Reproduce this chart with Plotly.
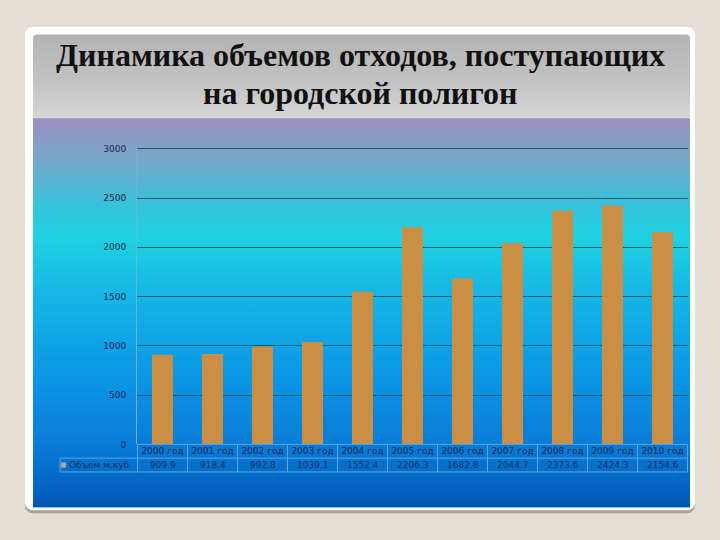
import base64
import plotly.graph_objects as go

# data
years = ["2000 год", "2001 год", "2002 год", "2003 год", "2004 год", "2005 год",
         "2006 год", "2007 год", "2008 год", "2009 год", "2010 год"]
volume = [909.9, 918.4, 992.8, 1039.1, 1552.4, 2206.3, 1682.8, 2044.7, 2373.6, 2424.3, 2154.6]
series_name = "Объем м.куб"
title_lines = ["Динамика объемов отходов, поступающих", "на городской полигон"]

W, H = 720, 540


def px(x):
    return x / W


def py(y):
    return 1 - y / H


# slide background (beige slide, white rounded panel, grey title box, blue gradient chart area)
svg = f"""<svg xmlns='http://www.w3.org/2000/svg' width='{W}' height='{H}' viewBox='0 0 {W} {H}'>
<defs>
<linearGradient id='t' x1='0' y1='0' x2='0' y2='1'>
<stop offset='0' stop-color='#b4b4b4'/><stop offset='0.55' stop-color='#c2c2c2'/><stop offset='1' stop-color='#d6d6d6'/>
</linearGradient>
<linearGradient id='c' x1='0' y1='0' x2='0' y2='1'>
<stop offset='0' stop-color='#9a90c0'/><stop offset='0.09' stop-color='#7ea4c8'/>
<stop offset='0.24' stop-color='#2ec6dc'/><stop offset='0.30' stop-color='#1fd2e2'/>
<stop offset='0.48' stop-color='#13b2e6'/><stop offset='0.68' stop-color='#0b94e4'/>
<stop offset='0.86' stop-color='#0878d4'/><stop offset='1' stop-color='#0058b6'/>
</linearGradient>
</defs>
<rect x='0' y='0' width='{W}' height='{H}' fill='#e4dfd5'/>
<rect x='25' y='26' width='670' height='492' rx='8' fill='#a8a39a'/>
<rect x='25' y='24' width='670' height='491' rx='8' fill='#ffffff'/>
<rect x='33' y='32' width='657' height='86' rx='4' fill='url(#t)'/>
<rect x='33' y='117' width='657' height='395' fill='url(#c)'/>
</svg>"""
bg_uri = "data:image/svg+xml;base64," + base64.b64encode(svg.encode()).decode()

fig = go.Figure()
fig.add_trace(go.Bar(
    x=years, y=volume, name=series_name,
    marker=dict(color="#c98f47", line=dict(width=0)),
    width=0.42,
))

table_font = dict(family="DejaVu Sans, Verdana", size=9, color="#13305e")

# value row of the data table
for yr, v in zip(years, volume):
    fig.add_annotation(x=yr, y=py(469), xref="x", yref="paper", text=f"{v:.1f}",
                       yanchor="middle", showarrow=False, font=table_font)
fig.add_annotation(x=px(67), y=py(469), xref="paper", yref="paper", text=series_name,
                   xanchor="left", yanchor="middle", showarrow=False, font=table_font)

line_col = "#5aa6e6"
shapes = [
    dict(type="line", xref="x", yref="paper", x0=-0.5, x1=len(years) - 0.5,
         y0=py(448), y1=py(448), line=dict(color=line_col, width=1)),
    dict(type="line", xref="x", yref="paper", x0=-0.5, x1=len(years) - 0.5,
         y0=py(462), y1=py(462), line=dict(color=line_col, width=1)),
    dict(type="line", xref="x", yref="paper", x0=-0.5, x1=len(years) - 0.5,
         y0=py(476), y1=py(476), line=dict(color=line_col, width=1)),
    dict(type="line", xref="paper", yref="paper", x0=px(60), x1=px(137),
         y0=py(462), y1=py(462), line=dict(color=line_col, width=1)),
    dict(type="line", xref="paper", yref="paper", x0=px(60), x1=px(137),
         y0=py(476), y1=py(476), line=dict(color=line_col, width=1)),
    dict(type="line", xref="paper", yref="paper", x0=px(60), x1=px(60),
         y0=py(462), y1=py(476), line=dict(color=line_col, width=1)),
    # legend key
    dict(type="rect", xref="paper", yref="paper", x0=px(61), x1=px(66),
         y0=py(471.5), y1=py(466.5), fillcolor="#a9a9a9", line=dict(color="#8a8a8a", width=0.5)),
]
for i in range(len(years) + 1):
    shapes.append(dict(type="line", xref="x", yref="paper", x0=i - 0.5, x1=i - 0.5,
                       y0=py(448), y1=py(476), line=dict(color=line_col, width=1)))

# title
for line, yy in zip(title_lines, [53, 91]):
    fig.add_annotation(x=0.5, y=py(yy), xref="paper", yref="paper", text=f"<b>{line}</b>",
                       xanchor="center", yanchor="middle", showarrow=False,
                       font=dict(family="Liberation Serif, Times New Roman", size=32, color="#111111"))

fig.update_layout(
    width=W, height=H,
    margin=dict(l=0, r=0, t=0, b=0),
    paper_bgcolor="#e4dfd5",
    plot_bgcolor="rgba(0,0,0,0)",
    showlegend=False,
    shapes=shapes,
    images=[dict(source=bg_uri, xref="paper", yref="paper", x=0, y=1, sizex=1, sizey=1,
                 xanchor="left", yanchor="top", sizing="stretch", layer="below")],
    xaxis=dict(domain=[px(137), px(688)], showgrid=False, zeroline=False,
               tickfont=dict(family="DejaVu Sans, Verdana", size=9, color="#10254f"),
               ticks="", showline=False),
    yaxis=dict(domain=[py(448), py(146)], range=[0, 3020], dtick=500,
               showgrid=True, gridcolor="#175f6b", gridwidth=1, zeroline=False,
               showline=True, linecolor="#6fb2d2", linewidth=1,
               tickfont=dict(family="DejaVu Sans, Verdana", size=9, color="#1a2448"),
               ticks="", ticklabelstandoff=8),
)

fig.write_html("out.html", config={"displayModeBar": False},
               post_script="document.body.style.margin='0';")
